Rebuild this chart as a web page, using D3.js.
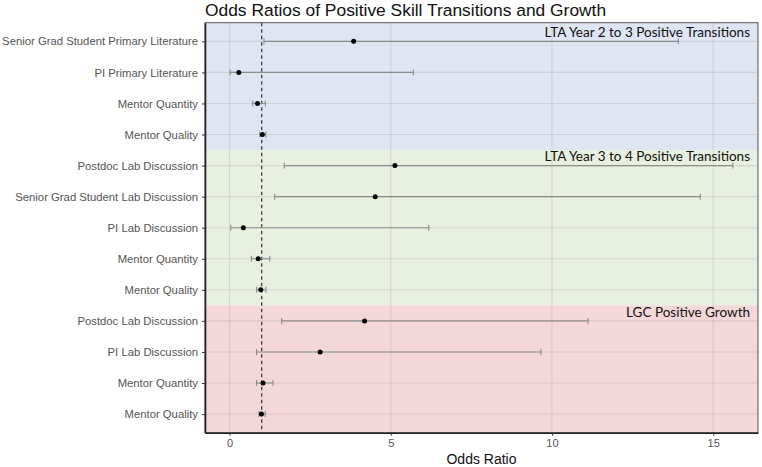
<!DOCTYPE html>
<html><head><meta charset="utf-8">
<script src="https://cdn.jsdelivr.net/npm/d3@7"></script>
<style>body{margin:0;background:#fff;} svg{display:block;}</style>
</head><body>
<svg id="chart" width="762" height="467"></svg>
<script>
const labels = ["Senior Grad Student Primary Literature","PI Primary Literature","Mentor Quantity","Mentor Quality",
  "Postdoc Lab Discussion","Senior Grad Student Lab Discussion","PI Lab Discussion","Mentor Quantity","Mentor Quality",
  "Postdoc Lab Discussion","PI Lab Discussion","Mentor Quantity","Mentor Quality"];
const groupOf = [0,0,0,0,1,1,1,1,1,2,2,2,2];
const oddsRatio = [3.85,0.29,0.87,1.02, 5.13,4.52,0.43,0.89,0.97, 4.19,2.81,1.04,0.99];
const lowerCI   = [1.07,0.02,0.72,0.94, 1.70,1.40,0.04,0.68,0.84, 1.62,0.84,0.84,0.91];
const upperCI   = [13.92,5.70,1.11,1.13, 15.61,14.60,6.18,1.25,1.13, 11.12,9.66,1.35,1.11];
const groupNames = ["LTA Year 2 to 3 Positive Transitions","LTA Year 3 to 4 Positive Transitions","LGC Positive Growth"];
const groupColors = ["#dfe5f3","#e8f0e0","#f4d7d8"];
const xTicks = [0,5,10,15];

const svg = d3.select("#chart");
const L=205, R=758, T=22.7, B=432.7;
const lo = d3.min(lowerCI), hi = d3.max(upperCI), pad=(hi-lo)*0.05;
const x = d3.scaleLinear().domain([lo-pad, hi+pad]).range([L,R]);
const idx = d3.range(labels.length);
const y = d3.scalePoint().domain(idx).range([T,B]).padding(0.6);
const step = y.step();

// group bands
const groups = d3.range(groupNames.length).map(g=>{
  const rows = idx.filter(i=>groupOf[i]===g);
  return {g, first: rows[0], last: rows[rows.length-1]};
});
svg.append("g").selectAll("rect").data(groups).join("rect")
  .attr("x",L).attr("width",R-L)
  .attr("y",d=> d.g===0 ? T : y(d.first)-step/2)
  .attr("height",d=> (d.g===groups.length-1 ? B : y(d.last)+step/2) - (d.g===0 ? T : y(d.first)-step/2))
  .attr("fill",d=>groupColors[d.g]);

// grid
const grid = svg.append("g").attr("stroke","rgba(140,140,150,0.22)").attr("stroke-width",1.1);
grid.selectAll("line.v").data(xTicks).join("line").attr("class","v")
  .attr("x1",d=>x(d)).attr("x2",d=>x(d)).attr("y1",T).attr("y2",B);
grid.selectAll("line.h").data(idx).join("line").attr("class","h")
  .attr("x1",L).attr("x2",R).attr("y1",d=>y(d)).attr("y2",d=>y(d));

// reference line
svg.append("line").attr("x1",x(1)).attr("x2",x(1)).attr("y1",T).attr("y2",B)
  .attr("stroke","#222").attr("stroke-width",1.1).attr("stroke-dasharray","3.5,3");

// error bars
const eb = svg.append("g").attr("stroke","#8c8c8c").attr("stroke-width",1.1);
eb.selectAll("line.e").data(idx).join("line").attr("class","e")
  .attr("x1",i=>x(lowerCI[i])).attr("x2",i=>x(upperCI[i])).attr("y1",i=>y(i)).attr("y2",i=>y(i));
eb.selectAll("line.l").data(idx).join("line").attr("class","l")
  .attr("x1",i=>x(lowerCI[i])).attr("x2",i=>x(lowerCI[i])).attr("y1",i=>y(i)-3).attr("y2",i=>y(i)+3);
eb.selectAll("line.u").data(idx).join("line").attr("class","u")
  .attr("x1",i=>x(upperCI[i])).attr("x2",i=>x(upperCI[i])).attr("y1",i=>y(i)-3).attr("y2",i=>y(i)+3);

// points
svg.append("g").selectAll("circle").data(idx).join("circle")
  .attr("cx",i=>x(oddsRatio[i])).attr("cy",i=>y(i)).attr("r",2.5)
  .attr("fill","#000");

// group labels
svg.append("g").selectAll("text").data(groups).join("text")
  .attr("x",750).attr("y",d=>y(d.first)-4.3)
  .attr("text-anchor","end").attr("font-family","Lato, 'Open Sans', sans-serif")
  .attr("font-size",13.5).attr("fill","#111").text(d=>groupNames[d.g]);

// panel border
svg.append("rect").attr("x",L).attr("y",T).attr("width",R-L).attr("height",B-T)
  .attr("fill","none").attr("stroke","#555").attr("stroke-width",1);

// axes
const xAxis = svg.append("g").attr("transform",`translate(0,${B})`)
  .call(d3.axisBottom(x).tickValues(xTicks).tickSize(3).tickSizeOuter(0).tickPadding(4));
xAxis.select(".domain").attr("stroke","#222").attr("stroke-width",1.6);
xAxis.selectAll(".tick line").attr("stroke","#333");
xAxis.selectAll("text").attr("fill","#555").attr("font-size",11).attr("font-family","'Liberation Sans', Arial, sans-serif");

const yAxis = svg.append("g").attr("transform",`translate(${L},0)`)
  .call(d3.axisLeft(y).tickFormat(i=>labels[i]).tickSize(3).tickSizeOuter(0).tickPadding(4));
yAxis.select(".domain").attr("stroke","#222").attr("stroke-width",1.6);
yAxis.selectAll(".tick line").attr("stroke","#333");
yAxis.selectAll("text").attr("fill","#555").attr("font-size",11.3).attr("font-family","'Liberation Sans', Arial, sans-serif");

// title and axis title
svg.append("text").attr("x",L).attr("y",16).attr("font-family","'Liberation Sans', Arial, sans-serif")
  .attr("font-size",17.4).attr("fill","#111").text("Odds Ratios of Positive Skill Transitions and Growth");
svg.append("text").attr("x",(L+R)/2).attr("y",464).attr("text-anchor","middle")
  .attr("font-family","'Liberation Sans', Arial, sans-serif").attr("font-size",14).attr("fill","#111").text("Odds Ratio");
</script>
</body></html>
